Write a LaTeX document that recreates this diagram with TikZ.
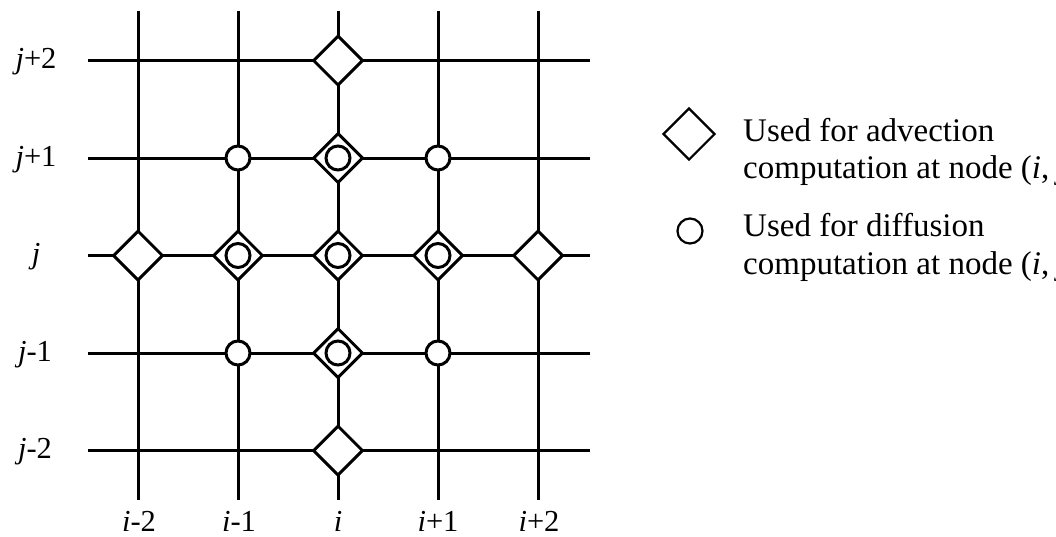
\documentclass[tikz,border=0pt]{standalone}
\usepackage{fontspec}
\setmainfont{Liberation Serif}
\usetikzlibrary{shapes.geometric}
\tikzset{
  gridline/.style={line width=3pt, line cap=butt},
  advmark/.style={diamond, draw, fill=white, line width=3pt, inner sep=0pt, minimum width=50pt, minimum height=50pt},
  difmark/.style={circle, draw, fill=white, line width=3pt, inner sep=0pt, minimum size=24pt},
  legadv/.style={diamond, draw, fill=white, line width=2.2pt, inner sep=0pt, minimum width=52pt, minimum height=52pt},
  legdif/.style={circle, draw, fill=white, line width=2.2pt, inner sep=0pt, minimum size=25pt},
  axlabel/.style={font=\fontsize{30.5}{36}\selectfont, inner sep=0pt, anchor=base},
  legtext/.style={font=\fontsize{33}{40}\selectfont, inner sep=0pt, anchor=base west},
}
\begin{document}
\begin{tikzpicture}[x=1pt,y=-1pt]
\useasboundingbox (0,0) rectangle (1056,536);
\clip (0,0) rectangle (1056,536);
% grid coordinates
\foreach \c/\x in {1/138,2/238,3/338,4/438,5/538}{
  \coordinate (top\c) at (\x,10.7);
  \coordinate (bot\c) at (\x,500);
}
\foreach \r/\y in {1/60.5,2/158,3/255.5,4/353,5/450.5}{
  \coordinate (lft\r) at (88,\y);
  \coordinate (rgt\r) at (590,\y);
}
\foreach \c in {1,...,5}{ \draw[gridline] (top\c) -- (bot\c); }
\foreach \r in {1,...,5}{ \draw[gridline] (lft\r) -- (rgt\r); }
% advection stencil (diamonds)
\node[advmark] (a13) at (338,60.5) {};
\node[advmark] (a23) at (338,158) {};
\node[advmark] (a31) at (138,255.5) {};
\node[advmark] (a32) at (238,255.5) {};
\node[advmark] (a33) at (338,255.5) {};
\node[advmark] (a34) at (438,255.5) {};
\node[advmark] (a35) at (538,255.5) {};
\node[advmark] (a43) at (338,353) {};
\node[advmark] (a53) at (338,450.5) {};
% diffusion stencil (circles)
\node[difmark] (d22) at (238,158) {};
\node[difmark] (d23) at (338,158) {};
\node[difmark] (d24) at (438,158) {};
\node[difmark] (d32) at (238,255.5) {};
\node[difmark] (d33) at (338,255.5) {};
\node[difmark] (d34) at (438,255.5) {};
\node[difmark] (d42) at (238,353) {};
\node[difmark] (d43) at (338,353) {};
\node[difmark] (d44) at (438,353) {};
% row labels
\node[axlabel] (lj2) at (36,68.5) {\textit{j}+2};
\node[axlabel] (lj1) at (36,166) {\textit{j}+1};
\node[axlabel] (lj0) at (36,263.5) {\textit{j}};
\node[axlabel] (ljm1) at (35,361) {\textit{j}-1};
\node[axlabel] (ljm2) at (35,458.5) {\textit{j}-2};
% column labels
\node[axlabel] (lim2) at (139,531) {\textit{i}-2};
\node[axlabel] (lim1) at (239,531) {\textit{i}-1};
\node[axlabel] (li0) at (338,531) {\textit{i}};
\node[axlabel] (li1) at (438,531) {\textit{i}+1};
\node[axlabel] (li2) at (539,531) {\textit{i}+2};
% legend
\node[legadv] (legA) at (689,134) {};
\node[legdif] (legD) at (690,231) {};
\node[legtext] (tA1) at (743,141) {Used for advection};
\node[legtext] (tA2) at (743,178) {computation at node (\textit{i}, \textit{j})};
\node[legtext] (tD1) at (743,236) {Used for diffusion};
\node[legtext] (tD2) at (743,274) {computation at node (\textit{i}, \textit{j})};
\end{tikzpicture}
\end{document}
